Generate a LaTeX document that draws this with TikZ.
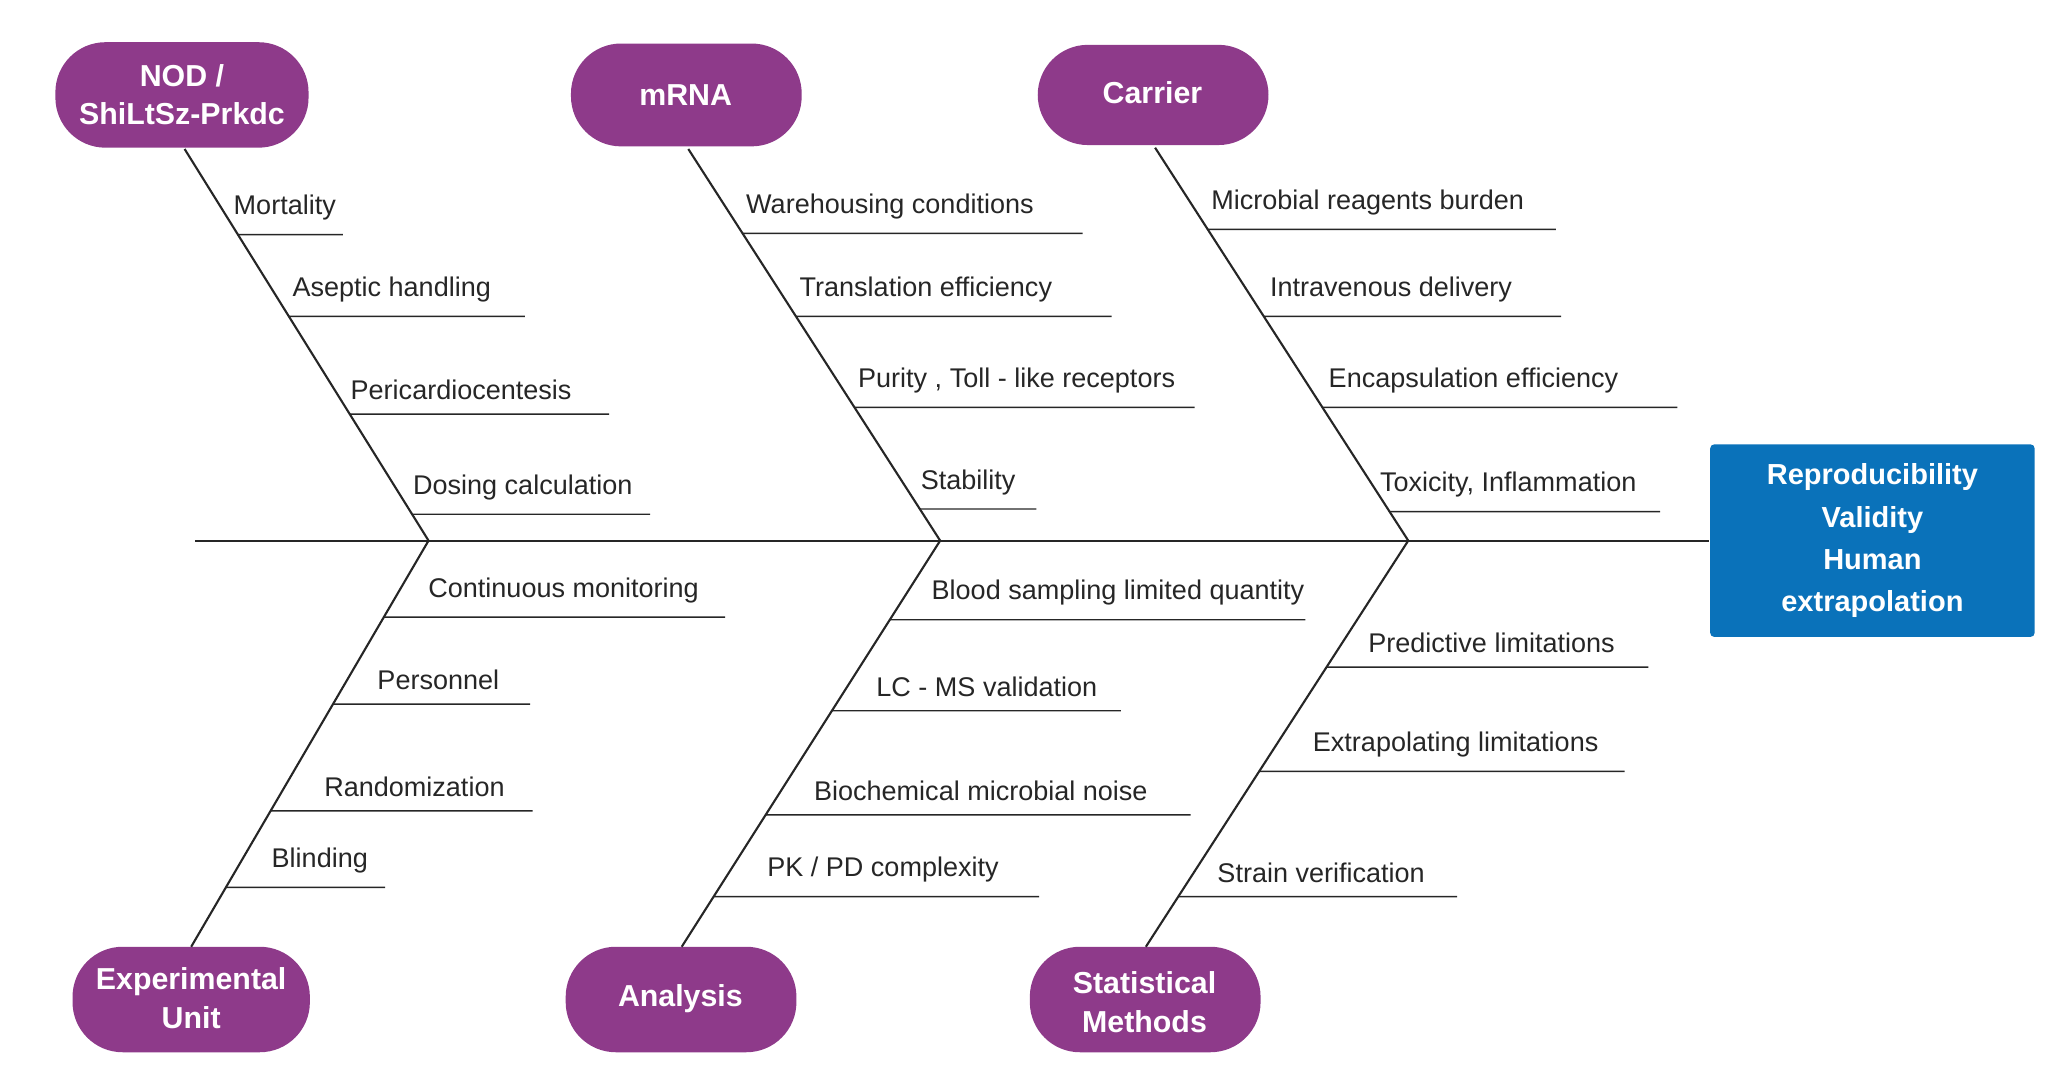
\documentclass[tikz,border=0pt]{standalone}
\usepackage{fontspec}
\setmainfont{Liberation Sans}
\usetikzlibrary{calc}
\definecolor{cause}{RGB}{142, 58, 138}
\definecolor{effect}{RGB}{10, 114, 186}
\tikzset{every picture/.style={line width=1.5pt}}
\tikzset{
  bone/.style={draw=black!85, line width=1.6pt},
  rib/.style={draw=black!85, line width=1.1pt},
  ribtext/.style={anchor=south west, inner sep=0pt, font=\fontsize{20.5}{24}\selectfont, text=black!85},
  head/.style={fill=cause, draw=none, rounded corners=38pt},
  headtext/.style={text=white, align=center, font=\bfseries\fontsize{23}{29}\selectfont},
}

\begin{document}
\begin{tikzpicture}[x=1pt,y=1pt,yscale=-1,xscale=1]
\useasboundingbox (0,0) rectangle (1560,817);

%Spine
\coordinate (tail) at (148,410);
\coordinate (jA) at (325,410);
\coordinate (jB) at (713,410);
\coordinate (jC) at (1068,410);
\node [fill=effect, rounded corners=3pt, minimum width=246pt, minimum height=146pt, text=white, align=center, font=\bfseries\fontsize{22}{32}\selectfont] (effect) at (1420,410) {Reproducibility\\Validity\\Human\\extrapolation};
\draw [bone] (tail) -- (effect.west);

%Heads
\draw [head] (42,32) rectangle (234,112);
\node [headtext] (nod) at (138,72) {NOD /\\ShiLtSz-Prkdc};
\draw [head] (433,33) rectangle (608,111);
\node [headtext] (mrna) at (520,72) {mRNA};
\draw [head] (787,34) rectangle (962,110);
\node [headtext] (carrier) at (874,70) {Carrier};
\draw [head] (55,718) rectangle (235,798);
\node [headtext] (unit) at (145,757) {Experimental\\Unit};
\draw [head] (429,718) rectangle (604,798);
\node [headtext] (analysis) at (516,757) {Analysis};
\draw [head] (781,718) rectangle (956,798);
\node [headtext] (stats) at (868,760) {Statistical\\Methods};

%Bones
\coordinate (tA) at (140,113);
\coordinate (tB) at (522,113);
\coordinate (tC) at (876,112);
\coordinate (bA) at (145,718);
\coordinate (bB) at (517,718);
\coordinate (bC) at (869,718);
\draw [bone] (tA) -- (jA) -- (bA);
\draw [bone] (tB) -- (jB) -- (bB);
\draw [bone] (tC) -- (jC) -- (bC);

%Ribs
\foreach \s/\j/\y/\e/\dx/\t [count=\i] in {
  tA/jA/178/260/-4/Mortality,
  tA/jA/240/398/2/Aseptic handling,
  tA/jA/314/462/0/Pericardiocentesis,
  tA/jA/390/493/0/Dosing calculation,
  tB/jB/177/821/2/Warehousing conditions,
  tB/jB/240/843/2/Translation efficiency,
  tB/jB/309/906/2/{Purity , Toll - like receptors},
  tB/jB/386/786/0/Stability,
  tC/jC/174/1180/2/Microbial reagents burden,
  tC/jC/240/1184/4/Intravenous delivery,
  tC/jC/309/1272/4/Encapsulation efficiency,
  tC/jC/388/1259/-8/{Toxicity, Inflammation},
  bA/jA/468/550/33/Continuous monitoring,
  bA/jA/534/402/33/Personnel,
  bA/jA/615/404/40/Randomization,
  bA/jA/673/292/34/Blinding,
  bB/jB/470/990/31/Blood sampling limited quantity,
  bB/jB/539/850/33/LC - MS validation,
  bB/jB/618/903/36/Biochemical microbial noise,
  bB/jB/680/788/40/{PK / PD complexity},
  bC/jC/506/1250/31/Predictive limitations,
  bC/jC/585/1232/40/Extrapolating limitations,
  bC/jC/680/1105/29/Strain verification}{
  \path (\s); \pgfgetlastxy{\sx}{\sy}
  \path (\j); \pgfgetlastxy{\jx}{\jy}
  \pgfmathsetmacro{\r}{(-\y-\sy)/(\jy-\sy)}
  \coordinate (r\i) at ($(\s)!\r!(\j)$);
  \coordinate (e\i) at (\e,\y);
  \draw [rib] (r\i) -- (e\i);
  \node [ribtext] (l\i) at ($(r\i)+(\dx,-10)$) {\t};
}

\end{tikzpicture}
\end{document}
